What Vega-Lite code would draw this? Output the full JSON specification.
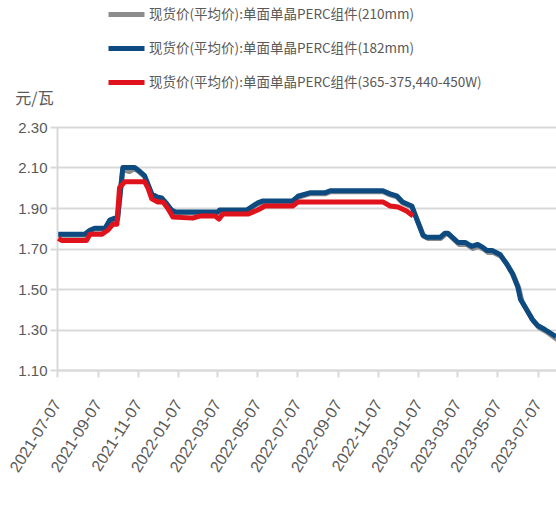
{
  "$schema": "https://vega.github.io/schema/vega-lite/v6.json",
  "width": 499,
  "height": 243,
  "autosize": "none",
  "padding": {"left": 57, "top": 127, "right": 0, "bottom": 141},
  "background": "white",
  "config": {"view": {"stroke": null}, "font": "Liberation Sans"},
  "datasets": {
    "rows": [
      {"d": "2021-07-09", "s": "210mm", "v": 1.765},
      {"d": "2021-08-18", "s": "210mm", "v": 1.765},
      {"d": "2021-08-26", "s": "210mm", "v": 1.785},
      {"d": "2021-09-02", "s": "210mm", "v": 1.795},
      {"d": "2021-09-18", "s": "210mm", "v": 1.795},
      {"d": "2021-09-25", "s": "210mm", "v": 1.835},
      {"d": "2021-10-03", "s": "210mm", "v": 1.845},
      {"d": "2021-10-07", "s": "210mm", "v": 1.845},
      {"d": "2021-10-15", "s": "210mm", "v": 2.09},
      {"d": "2021-10-25", "s": "210mm", "v": 2.08},
      {"d": "2021-11-02", "s": "210mm", "v": 2.095},
      {"d": "2021-11-10", "s": "210mm", "v": 2.075},
      {"d": "2021-11-17", "s": "210mm", "v": 2.055},
      {"d": "2021-11-28", "s": "210mm", "v": 1.965},
      {"d": "2021-12-06", "s": "210mm", "v": 1.95},
      {"d": "2021-12-13", "s": "210mm", "v": 1.945},
      {"d": "2021-12-21", "s": "210mm", "v": 1.915},
      {"d": "2021-12-28", "s": "210mm", "v": 1.885},
      {"d": "2022-01-03", "s": "210mm", "v": 1.875},
      {"d": "2022-03-08", "s": "210mm", "v": 1.875},
      {"d": "2022-03-11", "s": "210mm", "v": 1.885},
      {"d": "2022-04-21", "s": "210mm", "v": 1.885},
      {"d": "2022-05-08", "s": "210mm", "v": 1.92},
      {"d": "2022-05-16", "s": "210mm", "v": 1.93},
      {"d": "2022-06-30", "s": "210mm", "v": 1.93},
      {"d": "2022-07-08", "s": "210mm", "v": 1.953},
      {"d": "2022-07-26", "s": "210mm", "v": 1.97},
      {"d": "2022-08-18", "s": "210mm", "v": 1.97},
      {"d": "2022-08-26", "s": "210mm", "v": 1.98},
      {"d": "2022-11-14", "s": "210mm", "v": 1.98},
      {"d": "2022-11-25", "s": "210mm", "v": 1.965},
      {"d": "2022-12-05", "s": "210mm", "v": 1.955},
      {"d": "2022-12-14", "s": "210mm", "v": 1.925},
      {"d": "2022-12-28", "s": "210mm", "v": 1.905},
      {"d": "2023-01-06", "s": "210mm", "v": 1.835},
      {"d": "2023-01-15", "s": "210mm", "v": 1.76},
      {"d": "2023-01-21", "s": "210mm", "v": 1.75},
      {"d": "2023-02-10", "s": "210mm", "v": 1.75},
      {"d": "2023-02-17", "s": "210mm", "v": 1.77},
      {"d": "2023-02-22", "s": "210mm", "v": 1.77},
      {"d": "2023-03-10", "s": "210mm", "v": 1.72},
      {"d": "2023-03-21", "s": "210mm", "v": 1.72},
      {"d": "2023-03-31", "s": "210mm", "v": 1.70},
      {"d": "2023-04-09", "s": "210mm", "v": 1.71},
      {"d": "2023-04-17", "s": "210mm", "v": 1.695},
      {"d": "2023-04-23", "s": "210mm", "v": 1.68},
      {"d": "2023-05-01", "s": "210mm", "v": 1.68},
      {"d": "2023-05-13", "s": "210mm", "v": 1.66},
      {"d": "2023-05-23", "s": "210mm", "v": 1.615},
      {"d": "2023-06-01", "s": "210mm", "v": 1.565},
      {"d": "2023-06-09", "s": "210mm", "v": 1.50},
      {"d": "2023-06-13", "s": "210mm", "v": 1.44},
      {"d": "2023-06-22", "s": "210mm", "v": 1.39},
      {"d": "2023-07-01", "s": "210mm", "v": 1.34},
      {"d": "2023-07-09", "s": "210mm", "v": 1.31},
      {"d": "2023-07-20", "s": "210mm", "v": 1.29},
      {"d": "2023-08-06", "s": "210mm", "v": 1.25},

      {"d": "2021-07-09", "s": "182mm", "v": 1.77},
      {"d": "2021-08-18", "s": "182mm", "v": 1.77},
      {"d": "2021-08-26", "s": "182mm", "v": 1.79},
      {"d": "2021-09-02", "s": "182mm", "v": 1.80},
      {"d": "2021-09-18", "s": "182mm", "v": 1.80},
      {"d": "2021-09-25", "s": "182mm", "v": 1.84},
      {"d": "2021-10-03", "s": "182mm", "v": 1.85},
      {"d": "2021-10-07", "s": "182mm", "v": 1.85},
      {"d": "2021-10-15", "s": "182mm", "v": 2.10},
      {"d": "2021-11-02", "s": "182mm", "v": 2.10},
      {"d": "2021-11-10", "s": "182mm", "v": 2.08},
      {"d": "2021-11-17", "s": "182mm", "v": 2.06},
      {"d": "2021-11-28", "s": "182mm", "v": 1.97},
      {"d": "2021-12-06", "s": "182mm", "v": 1.955},
      {"d": "2021-12-13", "s": "182mm", "v": 1.95},
      {"d": "2021-12-21", "s": "182mm", "v": 1.92},
      {"d": "2021-12-28", "s": "182mm", "v": 1.89},
      {"d": "2022-01-03", "s": "182mm", "v": 1.88},
      {"d": "2022-03-08", "s": "182mm", "v": 1.88},
      {"d": "2022-03-11", "s": "182mm", "v": 1.89},
      {"d": "2022-04-21", "s": "182mm", "v": 1.89},
      {"d": "2022-05-08", "s": "182mm", "v": 1.925},
      {"d": "2022-05-16", "s": "182mm", "v": 1.935},
      {"d": "2022-06-30", "s": "182mm", "v": 1.935},
      {"d": "2022-07-08", "s": "182mm", "v": 1.958},
      {"d": "2022-07-26", "s": "182mm", "v": 1.975},
      {"d": "2022-08-18", "s": "182mm", "v": 1.975},
      {"d": "2022-08-26", "s": "182mm", "v": 1.985},
      {"d": "2022-11-14", "s": "182mm", "v": 1.985},
      {"d": "2022-11-25", "s": "182mm", "v": 1.97},
      {"d": "2022-12-05", "s": "182mm", "v": 1.96},
      {"d": "2022-12-14", "s": "182mm", "v": 1.93},
      {"d": "2022-12-28", "s": "182mm", "v": 1.91},
      {"d": "2023-01-05", "s": "182mm", "v": 1.84},
      {"d": "2023-01-14", "s": "182mm", "v": 1.765},
      {"d": "2023-01-20", "s": "182mm", "v": 1.755},
      {"d": "2023-02-09", "s": "182mm", "v": 1.755},
      {"d": "2023-02-16", "s": "182mm", "v": 1.775},
      {"d": "2023-02-21", "s": "182mm", "v": 1.775},
      {"d": "2023-03-08", "s": "182mm", "v": 1.73},
      {"d": "2023-03-19", "s": "182mm", "v": 1.73},
      {"d": "2023-03-29", "s": "182mm", "v": 1.71},
      {"d": "2023-04-07", "s": "182mm", "v": 1.72},
      {"d": "2023-04-15", "s": "182mm", "v": 1.705},
      {"d": "2023-04-21", "s": "182mm", "v": 1.69},
      {"d": "2023-04-29", "s": "182mm", "v": 1.69},
      {"d": "2023-05-11", "s": "182mm", "v": 1.67},
      {"d": "2023-05-21", "s": "182mm", "v": 1.625},
      {"d": "2023-05-30", "s": "182mm", "v": 1.575},
      {"d": "2023-06-07", "s": "182mm", "v": 1.51},
      {"d": "2023-06-11", "s": "182mm", "v": 1.45},
      {"d": "2023-06-20", "s": "182mm", "v": 1.40},
      {"d": "2023-06-29", "s": "182mm", "v": 1.35},
      {"d": "2023-07-07", "s": "182mm", "v": 1.32},
      {"d": "2023-07-18", "s": "182mm", "v": 1.30},
      {"d": "2023-08-04", "s": "182mm", "v": 1.265},

      {"d": "2021-07-09", "s": "365-375,440-450W", "v": 1.75},
      {"d": "2021-07-14", "s": "365-375,440-450W", "v": 1.74},
      {"d": "2021-08-21", "s": "365-375,440-450W", "v": 1.74},
      {"d": "2021-08-26", "s": "365-375,440-450W", "v": 1.77},
      {"d": "2021-09-13", "s": "365-375,440-450W", "v": 1.77},
      {"d": "2021-09-22", "s": "365-375,440-450W", "v": 1.79},
      {"d": "2021-09-30", "s": "365-375,440-450W", "v": 1.82},
      {"d": "2021-10-06", "s": "365-375,440-450W", "v": 1.82},
      {"d": "2021-10-10", "s": "365-375,440-450W", "v": 2.00},
      {"d": "2021-10-18", "s": "365-375,440-450W", "v": 2.03},
      {"d": "2021-11-17", "s": "365-375,440-450W", "v": 2.03},
      {"d": "2021-11-22", "s": "365-375,440-450W", "v": 2.00},
      {"d": "2021-11-28", "s": "365-375,440-450W", "v": 1.945},
      {"d": "2021-12-07", "s": "365-375,440-450W", "v": 1.93},
      {"d": "2021-12-15", "s": "365-375,440-450W", "v": 1.93},
      {"d": "2021-12-22", "s": "365-375,440-450W", "v": 1.90},
      {"d": "2021-12-30", "s": "365-375,440-450W", "v": 1.855},
      {"d": "2022-01-29", "s": "365-375,440-450W", "v": 1.85},
      {"d": "2022-02-09", "s": "365-375,440-450W", "v": 1.86},
      {"d": "2022-03-04", "s": "365-375,440-450W", "v": 1.86},
      {"d": "2022-03-10", "s": "365-375,440-450W", "v": 1.845},
      {"d": "2022-03-16", "s": "365-375,440-450W", "v": 1.87},
      {"d": "2022-04-23", "s": "365-375,440-450W", "v": 1.87},
      {"d": "2022-05-08", "s": "365-375,440-450W", "v": 1.89},
      {"d": "2022-05-19", "s": "365-375,440-450W", "v": 1.91},
      {"d": "2022-06-30", "s": "365-375,440-450W", "v": 1.91},
      {"d": "2022-07-08", "s": "365-375,440-450W", "v": 1.93},
      {"d": "2022-11-14", "s": "365-375,440-450W", "v": 1.93},
      {"d": "2022-11-25", "s": "365-375,440-450W", "v": 1.91},
      {"d": "2022-12-07", "s": "365-375,440-450W", "v": 1.905},
      {"d": "2022-12-20", "s": "365-375,440-450W", "v": 1.885},
      {"d": "2022-12-30", "s": "365-375,440-450W", "v": 1.86}
    ]
  },
  "data": {"name": "rows"},
  "mark": {"type": "line", "strokeWidth": 5, "clip": true, "strokeJoin": "round"},
  "encoding": {
    "x": {
      "field": "d",
      "type": "temporal",
      "scale": {
        "type": "utc",
        "domain": [
          {"year": 2021, "month": 7, "date": 7, "utc": true},
          {"year": 2023, "month": 8, "date": 4, "utc": true}
        ]
      },
      "axis": {
        "title": null,
        "grid": false,
        "values": [
          {"year": 2021, "month": 7, "date": 7, "utc": true},
          {"year": 2021, "month": 9, "date": 7, "utc": true},
          {"year": 2021, "month": 11, "date": 7, "utc": true},
          {"year": 2022, "month": 1, "date": 7, "utc": true},
          {"year": 2022, "month": 3, "date": 7, "utc": true},
          {"year": 2022, "month": 5, "date": 7, "utc": true},
          {"year": 2022, "month": 7, "date": 7, "utc": true},
          {"year": 2022, "month": 9, "date": 7, "utc": true},
          {"year": 2022, "month": 11, "date": 7, "utc": true},
          {"year": 2023, "month": 1, "date": 7, "utc": true},
          {"year": 2023, "month": 3, "date": 7, "utc": true},
          {"year": 2023, "month": 5, "date": 7, "utc": true},
          {"year": 2023, "month": 7, "date": 7, "utc": true}
        ],
        "labelExpr": "utcFormat(datum.value, '%Y-%m-%d')",
        "labelAngle": -58,
        "labelFont": "Liberation Sans",
        "labelFontSize": 16,
        "labelColor": "#595959",
        "labelPadding": 24,
        "labelOverlap": false,
        "labelFlush": false,
        "labelBound": false,
        "tickSize": 7,
        "tickColor": "#d9d9d9",
        "tickWidth": 2,
        "domainColor": "#d9d9d9",
        "domainWidth": 2
      }
    },
    "y": {
      "field": "v",
      "type": "quantitative",
      "scale": {"domain": [1.1, 2.3], "nice": false, "zero": false},
      "axis": {
        "values": [1.1, 1.3, 1.5, 1.7, 1.9, 2.1, 2.3],
        "format": ".2f",
        "title": "元/瓦",
        "titleAngle": 0,
        "titleX": -23,
        "titleY": -24,
        "titleAlign": "center",
        "titleBaseline": "alphabetic",
        "titleFont": "Noto Sans CJK SC",
        "titleFontSize": 16,
        "titleFontWeight": "normal",
        "titleColor": "#595959",
        "labelFont": "Liberation Sans",
        "labelFontSize": 15,
        "labelColor": "#595959",
        "labelPadding": 3,
        "tickSize": 7,
        "tickColor": "#d9d9d9",
        "tickWidth": 2,
        "domainColor": "#d9d9d9",
        "domainWidth": 2,
        "gridColor": "#d9d9d9",
        "gridWidth": 2
      }
    },
    "color": {
      "field": "s",
      "type": "nominal",
      "sort": ["210mm", "182mm", "365-375,440-450W"],
      "scale": {
        "domain": ["210mm", "182mm", "365-375,440-450W"],
        "range": ["#8c8c8c", "#0d4a80", "#e0121c"]
      },
      "legend": {
        "title": null,
        "orient": "none",
        "legendX": 49,
        "legendY": -133,
        "direction": "vertical",
        "symbolType": "stroke",
        "symbolSize": 1296,
        "symbolStrokeWidth": 5,
        "labelExpr": "'现货价(平均价):单面单晶PERC组件(' + datum.label + ')'",
        "labelFont": "Noto Sans CJK SC",
        "labelFontSize": 13.5,
        "labelColor": "#595959",
        "labelLimit": 500,
        "labelOffset": 2,
        "rowPadding": 3,
        "padding": 0
      }
    }
  }
}
